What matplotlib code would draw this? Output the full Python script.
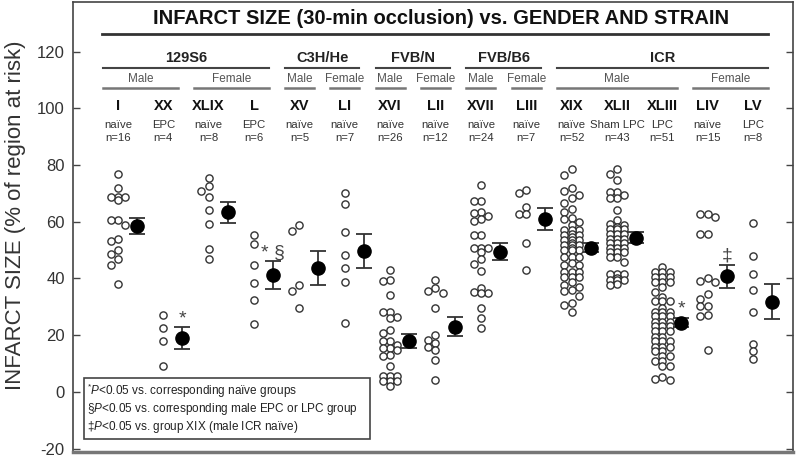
import numpy as np
import matplotlib.pyplot as plt
from matplotlib.patches import Rectangle

plt.rcParams['font.family'] = ['Liberation Sans', 'DejaVu Sans']
plt.rcParams['axes.unicode_minus'] = False
plt.rcParams['mathtext.fontset'] = 'custom'
plt.rcParams['mathtext.it'] = 'Liberation Sans:italic'
plt.rcParams['mathtext.rm'] = 'Liberation Sans'

# group labels
groups = ['I', 'XX', 'XLIX', 'L', 'XV', 'LI', 'XVI', 'LII', 'XVII', 'LIII',
          'XIX', 'XLII', 'XLIII', 'LIV', 'LV']
treat = ['naïve', 'EPC', 'naïve', 'EPC', 'naïve', 'naïve', 'naïve', 'naïve',
         'naïve', 'naïve', 'naïve', 'Sham LPC', 'LPC', 'naïve', 'LPC']
n_text = ['n=16', 'n=4', 'n=8', 'n=6', 'n=5', 'n=7', 'n=26', 'n=12', 'n=24',
          'n=7', 'n=52', 'n=43', 'n=51', 'n=15', 'n=8']

strains = [('129S6', 0, 3), ('C3H/He', 4, 5), ('FVB/N', 6, 7), ('FVB/B6', 8, 9),
           ('ICR', 10, 14)]
genders = [('Male', 0, 1), ('Female', 2, 3), ('Male', 4, 4), ('Female', 5, 5),
           ('Male', 6, 6), ('Female', 7, 7), ('Male', 8, 8), ('Female', 9, 9),
           ('Male', 10, 12), ('Female', 13, 14)]

# individual infarct sizes (% of region at risk)
g_I = [76.8, 71.8, 68.7, 68.7, 68.7, 67.5, 60.5, 60.5, 58.7, 54.0, 53.1, 49.9,
       48.8, 46.8, 44.7, 37.9]
g_XX = [27.1, 22.7, 17.8, 9.0]
g_XLIX = [75.3, 72.7, 70.7, 68.9, 64.2, 59.3, 50.5, 47.0]
g_L = [55.2, 52.3, 44.9, 38.5, 32.3, 24.1]
g_XV = [58.7, 56.9, 37.6, 35.6, 29.5]
g_LI = [70.2, 66.3, 56.4, 48.4, 43.7, 38.8, 24.2]
g_XVI = [42.9, 39.4, 39.1, 34.2, 28.3, 28.1, 26.3, 26.0, 21.9, 20.9, 17.8, 17.8,
         16.6, 15.4, 15.4, 14.9, 13.1, 12.5, 9.2, 5.5, 5.5, 5.5, 3.7, 3.7, 3.7, 2.0]
g_LII = [39.6, 36.7, 35.5, 34.7, 29.5, 20.1, 18.4, 17.4, 16.0, 14.9, 11.1, 4.1]
g_XVII = [73.1, 67.3, 67.3, 63.4, 63.2, 62.2, 60.8, 60.1, 55.5, 55.5, 50.9, 50.9,
          50.9, 49.4, 47.0, 45.0, 42.7, 36.8, 35.1, 34.7, 34.7, 29.7, 26.0, 22.7]
g_LIII = [71.3, 70.2, 65.1, 62.8, 62.6, 52.5, 42.9]
g_XIX = [78.5, 76.5, 71.8, 70.8, 69.5, 68.3, 66.7, 64.6, 63.4, 61.3, 60.8, 59.9,
         59.0, 57.0, 57.0, 57.0, 55.8, 55.2, 55.2, 54.5, 53.4, 53.4, 53.4, 52.5,
         51.7, 51.7, 51.7, 50.8, 49.9, 49.9, 49.9, 47.6, 47.6, 47.6, 45.3, 44.9,
         44.9, 42.3, 42.3, 42.3, 40.6, 40.6, 40.6, 38.8, 37.7, 37.1, 35.9, 35.6,
         33.9, 31.2, 30.6, 28.0]
g_XLII = [78.6, 76.8, 74.9, 70.4, 70.4, 69.5, 68.3, 68.3, 64.0, 60.5, 59.3, 58.7,
          58.1, 57.4, 57.4, 57.4, 55.7, 55.7, 55.7, 53.9, 53.9, 53.9, 52.4, 52.4,
          52.4, 50.9, 50.9, 50.9, 49.2, 49.2, 49.2, 47.4, 47.4, 45.9, 41.7, 41.7,
          41.7, 40.0, 39.4, 39.4, 39.4, 38.2, 37.7]
g_XLIII = [44.1, 42.3, 42.3, 42.3, 40.6, 40.6, 40.6, 38.8, 38.8, 38.8, 37.1, 35.3,
           33.6, 32.0, 32.0, 32.0, 29.6, 28.3, 28.3, 28.3, 26.6, 26.6, 26.6, 24.8,
           24.8, 24.8, 23.1, 23.1, 23.1, 21.3, 21.3, 21.3, 19.5, 19.5, 17.8, 17.8,
           17.8, 16.0, 16.0, 16.0, 14.3, 14.3, 12.5, 12.5, 10.8, 10.8, 9.0, 9.0,
           5.3, 4.7, 4.2]
g_LIV = [62.6, 62.6, 61.6, 55.8, 55.8, 40.2, 39.2, 38.8, 34.4, 32.7, 30.3, 30.3,
         27.1, 26.8, 14.6]
g_LV = [59.5, 48.0, 41.5, 35.9, 28.3, 16.8, 14.3, 11.6]

points = [g_I, g_XX, g_XLIX, g_L, g_XV, g_LI, g_XVI, g_LII, g_XVII, g_LIII,
          g_XIX, g_XLII, g_XLIII, g_LIV, g_LV]

# group mean and SEM
means = [58.5, 19.1, 63.4, 41.2, 43.7, 49.7, 18.0, 23.0, 49.4, 61.1, 50.9, 54.4,
         24.4, 40.8, 31.8]
sems = [2.9, 3.8, 3.7, 4.8, 6.0, 6.0, 2.5, 3.4, 3.0, 3.9, 1.6, 2.0, 1.65, 4.0, 6.1]

# significance marks (group index, symbol, y)
marks = [(1, '*', 25.8), (3, '* §', 49.0), (12, '*', 29.3), (13, '‡', 48.1)]

title = 'INFARCT SIZE (30-min occlusion) vs. GENDER AND STRAIN'
ylab = 'INFARCT SIZE (% of region at risk)'
notes = [r'$^{*}$$P$<0.05 vs. corresponding naïve groups',
         r'§$P$<0.05 vs. corresponding male EPC or LPC group',
         r'‡$P$<0.05 vs. group XIX (male ICR naïve)']


def swarm(vals, gap=2.3):
    # spread tied values over three slots (-1, 0, 1)
    placed = []
    offs = []
    for v in vals:
        best, bestd = 0, -1
        for s in (0, -1, 1):
            d = min([abs(pv - v) for ps, pv in placed if ps == s] + [99])
            if d >= gap:
                best = s
                break
            if d > bestd:
                best, bestd = s, d
        placed.append((best, v))
        offs.append(best)
    return np.array(offs)


fig = plt.figure(figsize=(8, 4.58), dpi=100)
ax = fig.add_axes([0.09125, 0.0131, 0.9, 0.9825])

dark = '#333333'
slot = 0.16
shift = 0.42
for i, vals in enumerate(points):
    xs = i + swarm(vals) * slot
    ax.scatter(xs, vals, s=27, facecolors='white', edgecolors=dark,
               linewidths=1.0, zorder=3)

x = np.arange(len(groups))
ax.errorbar(x + shift, means, yerr=sems, fmt='o', color='black', ms=9.5,
            ecolor=dark, elinewidth=1.3, capsize=5.8, capthick=1.3, zorder=4)

for i, sym, yv in marks:
    ax.text(i + shift, yv, sym, ha='center', va='center', fontsize=14,
            color='#444444')

# header block
ax.text(7.12, 131.6, title, ha='center', va='center', fontsize=14.5,
        fontweight='bold', color='#111111')
ax.plot([-0.35, 14.33], [126.3, 126.3], color='#333333', lw=2)
for name, a, b in strains:
    ax.text((a + b) / 2, 117.9, name, ha='center', va='center', fontsize=10.5,
            fontweight='bold', color='#222222')
    ax.plot([a - 0.32, b + 0.32], [114.4, 114.4], color='#444444', lw=1.5)
for name, a, b in genders:
    ax.text((a + b) / 2, 110.5, name, ha='center', va='center', fontsize=8.5,
            color='#555555')
    ax.plot([a - 0.32, b + 0.32], [107.0, 107.0], color='#777777', lw=1.8)
for i in range(len(groups)):
    ax.text(i, 100.7, groups[i], ha='center', va='center', fontsize=10.5,
            fontweight='bold', color='#111111')
    ax.text(i, 94.0, treat[i], ha='center', va='center', fontsize=8.2,
            color='#333333')
    ax.text(i, 89.5, n_text[i], ha='center', va='center', fontsize=8.2,
            color='#333333')

# footnote box
ax.add_patch(Rectangle((-0.75, -16.5), 6.31, 21.4, fill=False,
                       edgecolor='#444444', lw=1.2, zorder=2))
for k, line in enumerate(notes):
    ax.text(-0.68, 0.35 - 6.3 * k, line, ha='left', va='center', fontsize=8.5,
            color='#222222')

ax.set_xlim(-0.99, 14.88)
ax.set_ylim(-21.2, 137.5)
ax.set_xticks([])
ax.set_yticks(np.arange(-20, 121, 20))
ax.tick_params(axis='y', direction='in', length=5, width=1, colors='#444444',
               labelsize=12, labelcolor='#333333', right=True, pad=6)
for sp in ax.spines.values():
    sp.set_color('#444444')
    sp.set_linewidth(1.2)
ax.spines['bottom'].set_color('#777777')
ax.spines['bottom'].set_linewidth(2.5)

fig.text(0.019, 0.529, ylab, rotation=90, ha='center', va='center',
         fontsize=16, color='#333333')

fig.savefig('out.png', dpi=100)
